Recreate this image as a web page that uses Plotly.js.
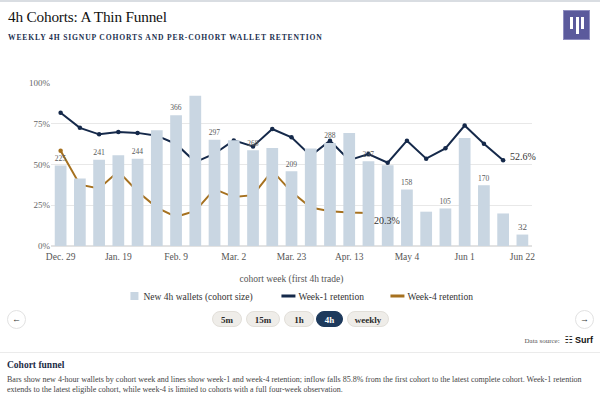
<!DOCTYPE html>
<html>
<head>
<meta charset="utf-8">
<script src="https://cdn.plot.ly/plotly-3.0.1.min.js"></script>
<style>
  html, body { margin:0; padding:0; background:#fff; }
  body { width:600px; height:404px; position:relative; overflow:hidden; font-family:"Liberation Serif","DejaVu Serif",serif; }
  .topbar { position:absolute; left:0; top:0; width:600px; height:2px; background:#d9dde2; }
  .title { position:absolute; left:8px; top:8px; font-size:15.3px; color:#111; letter-spacing:-0.2px; }
  .subtitle { position:absolute; left:8px; top:33px; font-size:7.6px; font-weight:bold; color:#1c3150; letter-spacing:0.85px; }
  .logo { position:absolute; left:563px; top:10px; width:27px; height:30px; background:#5b5a9c; border:1px solid #8e8dbf; box-sizing:border-box; }
  .logo span { position:absolute; background:#fff; width:3px; }
  #chart { position:absolute; left:0; top:0; width:600px; height:404px; }
  .pills { position:absolute; top:311px; left:0; width:600px; height:17px; }
  .pill { position:absolute; top:0; height:16px; line-height:16px; border-radius:8px; background:#efede9; border:1px solid #e2dfd9; box-sizing:border-box; text-align:center; font-size:9px; font-weight:bold; color:#2a2a2a; }
  .pill.active { background:#1e3a5c; border-color:#1e3a5c; color:#fff; }
  .arrow { position:absolute; top:310px; width:19px; height:19px; border-radius:50%; border:1px solid #e2e2e2; box-sizing:border-box; text-align:center; line-height:17px; font-size:9px; color:#333; background:#fff; }
  .source { position:absolute; top:335px; right:7px; font-size:7px; color:#555; }
  .source b { font-family:"Liberation Sans","DejaVu Sans",sans-serif; font-size:9px; color:#111; margin-left:3px; }
  .sep { position:absolute; left:0; top:352px; width:600px; height:1px; background:#ebebeb; }
  .h2 { position:absolute; left:7px; top:360px; font-size:9.5px; font-weight:bold; color:#1c2c46; }
  .para { position:absolute; left:7px; top:375px; width:590px; font-size:8px; line-height:10.2px; color:#444; }
</style>
</head>
<body>
<div class="topbar"></div>
<div class="title">4h Cohorts: A Thin Funnel</div>
<div class="subtitle">WEEKLY 4H SIGNUP COHORTS AND PER-COHORT WALLET RETENTION</div>
<div class="logo"><span style="left:6px;top:6px;height:12px"></span><span style="left:11.5px;top:6px;height:17px"></span><span style="left:17px;top:6px;height:12px"></span></div>
<div id="chart"></div>
<div class="arrow" style="left:7px">&larr;</div>
<div class="arrow" style="left:575px">&rarr;</div>
<div class="pills">
  <div class="pill" style="left:212px;width:30px">5m</div>
  <div class="pill" style="left:246px;width:34px">15m</div>
  <div class="pill" style="left:284px;width:30px">1h</div>
  <div class="pill active" style="left:316px;width:27px">4h</div>
  <div class="pill" style="left:347px;width:42px">weekly</div>
</div>
<div class="source">Data source: <b>&#9783; Surf</b></div>
<div class="sep"></div>
<div class="h2">Cohort funnel</div>
<div class="para">Bars show new 4-hour wallets by cohort week and lines show week-1 and week-4 retention; inflow falls 85.8% from the first cohort to the latest complete cohort. Week-1 retention extends to the latest eligible cohort, while week-4 is limited to cohorts with a full four-week observation.</div>
<script>
// ---- data ----
const cohorts = ["2025-12-29","2026-01-05","2026-01-12","2026-01-19","2026-01-26","2026-02-02","2026-02-09",
  "2026-02-16","2026-02-23","2026-03-02","2026-03-09","2026-03-16","2026-03-23","2026-03-30","2026-04-06",
  "2026-04-13","2026-04-20","2026-04-27","2026-05-04","2026-05-11","2026-05-18","2026-05-25","2026-06-01",
  "2026-06-08","2026-06-15"];
const newWallets = [225,189,241,254,244,324,366,420,297,296,268,274,209,273,288,316,237,226,158,96,105,302,170,91,32];
const week1 = [81.7,72.5,68.5,70.0,69.4,67.7,62.6,51.5,56.6,64.8,61.1,71.8,66.7,55.4,64.6,52.7,56.4,51.1,64.6,53.6,59.9,73.9,62.8,52.6];
const week4 = [58.5,37.6,35.3,45.8,33.4,23.6,17.9,21.5,34.9,30.0,31.2,46.2,33.2,23.6,21.3,20.5,20.3];
const tickVals = ["2025-12-29","2026-01-19","2026-02-09","2026-03-02","2026-03-23","2026-04-13","2026-05-04","2026-05-25","2026-06-15"];
const tickText = ["Dec. 29","Jan. 19","Feb. 9","Mar. 2","Mar. 23","Apr. 13","May 4","Jun 1","Jun 22"];

const serif = '"Liberation Serif","DejaVu Serif",serif';
const navy = '#15294a', gold = '#a6711f';
const barText = newWallets.map((v,i)=> i%2===0 ? String(v) : '');
const x1 = cohorts.slice(0, week1.length), x4 = cohorts.slice(0, week4.length);

const traces = [
  { type:'bar', name:'New 4h wallets (cohort size)', x:cohorts, y:newWallets, yaxis:'y2',
    marker:{color:'#c9d6e2'}, text:barText, textposition:'outside', cliponaxis:false,
    textfont:{family:serif, size:9, color:'#5a5a5a'}, outsidetextfont:{family:serif, size:9, color:'#5a5a5a'},
    hoverinfo:'skip', legendwidth:110 },
  { type:'scatter', mode:'lines', name:'Week-1 retention', x:x1, y:week1,
    line:{color:navy, width:2}, legendwidth:64 },
  { type:'scatter', mode:'lines', name:'Week-4 retention', x:x4, y:week4,
    line:{color:gold, width:2}, legendwidth:70 },
  { type:'scatter', mode:'markers', showlegend:false, x:x1, y:week1, marker:{color:navy, size:4.5} },
  { type:'scatter', mode:'markers', showlegend:false, x:x4, y:week4, marker:{color:gold, size:4.5} }
];

const layout = {
  width:600, height:404,
  margin:{l:51, r:68, t:83, b:158},
  paper_bgcolor:'rgba(0,0,0,0)', plot_bgcolor:'rgba(0,0,0,0)',
  font:{family:serif, size:9, color:'#555'},
  showlegend:true,
  bargap:0.39,
  xaxis:{ type:'category', categoryorder:'array', categoryarray:cohorts,
    tickmode:'array', tickvals:tickVals, ticktext:tickText, ticks:'', showgrid:false, zeroline:false,
    showline:false, tickfont:{family:serif, size:9.5, color:'#555'}, ticklabelstandoff:3,
    title:{text:'cohort week (first 4h trade)', font:{family:serif, size:9.5, color:'#555'}, standoff:14},
    range:[-0.5, cohorts.length-0.5], fixedrange:true },
  yaxis:{ range:[0,100], tickvals:[0,25,50,75,100], ticktext:['0%','25%','50%','75%','100%'],
    gridcolor:'#e8e8e8', gridwidth:1.2, zeroline:true, zerolinecolor:'#e2e2e2', zerolinewidth:1.2, showline:false,
    tickfont:{family:serif, size:9, color:'#666'}, ticks:'', fixedrange:true },
  yaxis2:{ overlaying:'y', side:'right', range:[0,456], visible:false, showgrid:false, fixedrange:true },
  legend:{ orientation:'h', x:0.503, xanchor:'center', y:-0.307, yanchor:'middle',
    font:{family:serif, size:9.5, color:'#333'}, itemwidth:30, traceorder:'normal' },
  annotations:[
    { x:cohorts[week1.length-1], y:week1[week1.length-1], text:week1[week1.length-1].toFixed(1)+'%',
      xanchor:'left', yanchor:'middle', xshift:5, yshift:4, showarrow:false,
      font:{family:serif, size:10, color:'#333'} },
    { x:cohorts[week4.length-1], y:week4[week4.length-1], text:week4[week4.length-1].toFixed(1)+'%',
      xanchor:'left', yanchor:'middle', xshift:4, yshift:-8, showarrow:false,
      font:{family:serif, size:10, color:'#333'} }
  ]
};

Plotly.newPlot('chart', traces, layout, {staticPlot:true, displayModeBar:false}).then(function(gd){
  // compact legend swatches: short thick lines and a small square
  gd.querySelectorAll('.legend .legendlines path').forEach(function(p){
    p.setAttribute('d','M23,0h14'); p.style.strokeWidth = '3px';
  });
  gd.querySelectorAll('.legend .legendpoints path').forEach(function(p){
    p.setAttribute('transform','translate(31,0)'); p.setAttribute('d','M4,4H-4V-4H4Z');
  });
});
</script>
</body>
</html>
